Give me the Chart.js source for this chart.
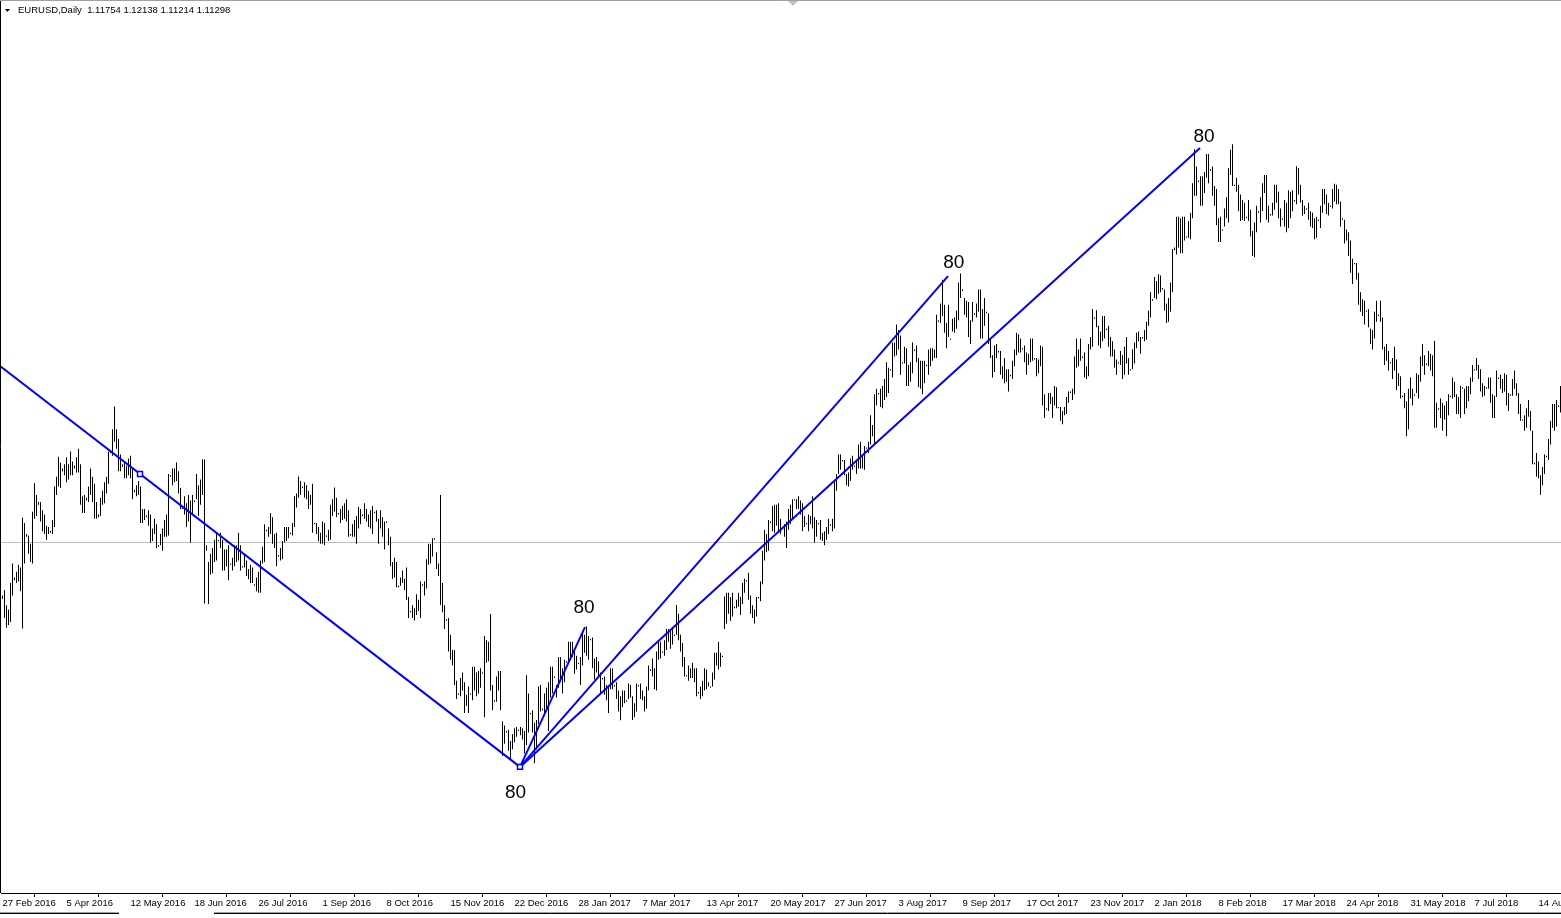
<!DOCTYPE html>
<html><head><meta charset="utf-8">
<script src="https://cdn.jsdelivr.net/npm/chart.js@4.4.1/dist/chart.umd.min.js"></script>
<style>html,body{margin:0;padding:0;background:#fff;overflow:hidden}#wrap{position:relative;width:1561px;height:918px}canvas{display:block}</style>
</head><body><div id="wrap"><canvas id="c" width="1561" height="918"></canvas></div>
<script>
// ---------- DATA ----------
const symbolHeader = "EURUSD,Daily  1.11754 1.12138 1.11214 1.11298";
const bidPrice = 1.11298;

const tickIndex = [0,32,64,96,128,160,192,224,256,288,320,352,384,416,448,480,512,544,576,608,640,672,704,736,768];
const tickLabels = ["27 Feb 2016","5 Apr 2016","12 May 2016","18 Jun 2016","26 Jul 2016","1 Sep 2016","8 Oct 2016","15 Nov 2016","22 Dec 2016","28 Jan 2017","7 Mar 2017","13 Apr 2017","20 May 2017","27 Jun 2017","3 Aug 2017","9 Sep 2017","17 Oct 2017","23 Nov 2017","2 Jan 2018","8 Feb 2018","17 Mar 2018","24 Apr 2018","31 May 2018","7 Jul 2018","14 Aug 2018"];

// daily lows (one row per week, Mon..Sat)
const lows = [1.0928,
1.0860,1.0825,1.0835,1.0845,1.0940,1.0995,
1.0985,1.0990,1.0955,1.0822,1.1055,1.1150,
1.1090,1.1060,1.1055,1.1215,1.1225,1.1265,
1.1205,1.1170,1.1160,1.1140,1.1160,1.1165,
1.1160,1.1185,1.1300,1.1330,1.1325,1.1385,
1.1370,1.1345,1.1355,1.1370,1.1370,1.1395,
1.1380,1.1380,1.1265,1.1235,1.1235,1.1280,
1.1275,1.1300,1.1275,1.1215,1.1215,1.1220,
1.1225,1.1265,1.1270,1.1305,1.1340,1.1450,
1.1440,1.1490,1.1465,1.1385,1.1385,1.1400,
1.1360,1.1360,1.1370,1.1360,1.1285,1.1310,
1.1295,1.1300,1.1200,1.1200,1.1210,1.1220,
1.1190,1.1130,1.1135,1.1160,1.1110,1.1115,
1.1120,1.1100,1.1150,1.1150,1.1155,1.1365,
1.1335,1.1345,1.1350,1.1305,1.1250,1.1250,
1.1230,1.1185,1.1205,1.1130,1.1230,1.1275,
1.1285,1.1225,1.1265,1.1300,1.0912,1.1100,
1.0910,1.1015,1.1020,1.1060,1.1065,1.1135,
1.1110,1.1030,1.1030,1.1045,1.0995,1.1050,
1.1030,1.1045,1.1060,1.1065,1.1030,1.1040,
1.1040,1.1010,1.0998,1.0985,1.0985,1.0975,
1.0955,1.0950,1.0950,1.1055,1.1060,1.1170,
1.1150,1.1160,1.1125,1.1110,1.1045,1.1080,
1.1065,1.1070,1.1130,1.1135,1.1145,1.1160,
1.1155,1.1185,1.1255,1.1290,1.1300,1.1325,
1.1290,1.1285,1.1250,1.1265,1.1165,1.1195,
1.1160,1.1135,1.1125,1.1125,1.1120,1.1150,
1.1135,1.1140,1.1225,1.1240,1.1220,1.1230,
1.1200,1.1210,1.1215,1.1205,1.1150,1.1155,
1.1150,1.1150,1.1125,1.1180,1.1195,1.1225,
1.1215,1.1205,1.1185,1.1180,1.1160,1.1235,
1.1205,1.1125,1.1180,1.1150,1.1105,1.1200,
1.1120,1.1045,1.1000,1.1005,1.0970,1.0970,
1.0975,1.0985,1.0960,1.0925,1.0860,1.0880,
1.0860,1.0851,1.0870,1.0885,1.0860,1.0975,
1.0940,1.0965,1.1050,1.1055,1.1080,1.1140,
1.1035,1.1010,1.0906,1.0880,1.0820,1.0850,
1.0740,1.0710,1.0690,1.0620,1.0570,1.0585,
1.0580,1.0600,1.0520,1.0545,1.0520,1.0585,
1.0565,1.0600,1.0580,1.0590,1.0610,1.0660,
1.0505,1.0700,1.0705,1.0600,1.0530,1.0560,
1.0560,1.0600,1.0530,1.0366,1.0410,1.0450,
1.0385,1.0352,1.0390,1.0415,1.0435,1.0455,
1.0440,1.0425,1.0375,1.0405,1.0450,1.0515,
1.0450,1.0340,1.0390,1.0480,1.0525,1.0530,
1.0520,1.0535,1.0455,1.0575,1.0590,1.0645,
1.0575,1.0610,1.0630,1.0590,1.0630,1.0700,
1.0700,1.0710,1.0720,1.0660,1.0675,1.0695,
1.0620,1.0690,1.0735,1.0725,1.0710,1.0780,
1.0680,1.0640,1.0665,1.0645,1.0590,1.0640,
1.0585,1.0565,1.0520,1.0605,1.0605,1.0615,
1.0570,1.0525,1.0494,1.0540,1.0555,1.0560,
1.0570,1.0575,1.0495,1.0505,1.0525,1.0615,
1.0570,1.0565,1.0525,1.0535,1.0600,1.0670,
1.0650,1.0605,1.0600,1.0710,1.0715,1.0735,
1.0725,1.0745,1.0775,1.0750,1.0765,1.0795,
1.0800,1.0780,1.0740,1.0685,1.0650,1.0650,
1.0635,1.0645,1.0645,1.0630,1.0580,1.0590,
1.0570,1.0580,1.0600,1.0605,1.0615,1.0610,
1.0615,1.0640,1.0690,1.0675,1.0685,1.0720,
1.0820,1.0840,1.0875,1.0850,1.0865,1.0895,
1.0895,1.0900,1.0870,1.0910,1.0950,1.0990,
1.0925,1.0875,1.0860,1.0840,1.0865,1.0930,
1.0920,1.0980,1.1065,1.1095,1.1100,1.1200,
1.1170,1.1165,1.1190,1.1170,1.1160,1.1180,
1.1150,1.1110,1.1175,1.1195,1.1210,1.1280,
1.1250,1.1250,1.1230,1.1170,1.1185,1.1195,
1.1170,1.1195,1.1180,1.1130,1.1150,1.1195,
1.1140,1.1135,1.1120,1.1140,1.1160,1.1190,
1.1170,1.1180,1.1315,1.1375,1.1390,1.1420,
1.1370,1.1335,1.1330,1.1350,1.1390,1.1400,
1.1375,1.1395,1.1395,1.1395,1.1390,1.1465,
1.1450,1.1480,1.1510,1.1480,1.1620,1.1660,
1.1615,1.1610,1.1640,1.1650,1.1665,1.1745,
1.1720,1.1795,1.1800,1.1820,1.1730,1.1770,
1.1770,1.1690,1.1690,1.1705,1.1735,1.1815,
1.1775,1.1685,1.1680,1.1660,1.1700,1.1760,
1.1730,1.1760,1.1780,1.1790,1.1790,1.1920,
1.1915,1.1940,1.1880,1.1825,1.1865,1.1855,
1.1885,1.1880,1.1895,1.1925,1.2005,1.2030,
1.1945,1.1935,1.1865,1.1840,1.1920,1.1945,
1.1935,1.1955,1.1860,1.1860,1.1905,1.1950,
1.1840,1.1790,1.1720,1.1740,1.1790,1.1810,
1.1730,1.1715,1.1700,1.1705,1.1670,1.1725,
1.1715,1.1760,1.1800,1.1810,1.1810,1.1820,
1.1775,1.1730,1.1765,1.1775,1.1780,1.1785,
1.1725,1.1735,1.1760,1.1620,1.1575,1.1605,
1.1600,1.1625,1.1575,1.1620,1.1610,1.1610,
1.1565,1.1553,1.1585,1.1590,1.1630,1.1665,
1.1640,1.1660,1.1755,1.1760,1.1780,1.1790,
1.1720,1.1715,1.1725,1.1820,1.1830,1.1930,
1.1900,1.1835,1.1825,1.1850,1.1860,1.1890,
1.1830,1.1795,1.1795,1.1755,1.1730,1.1770,
1.1765,1.1715,1.1730,1.1770,1.1730,1.1745,
1.1750,1.1770,1.1825,1.1850,1.1805,1.1860,
1.1850,1.1855,1.1905,1.1935,1.1995,
1.2005,1.2000,1.2020,1.2025,1.2035,
1.1960,1.1915,1.1920,1.1955,1.2025,1.2175,
1.2160,1.2185,1.2165,1.2165,1.2210,1.2220,
1.2220,1.2215,1.2290,1.2370,1.2370,1.2420,
1.2335,1.2335,1.2380,1.2435,1.2415,1.2460,
1.2370,1.2335,1.2265,1.2205,1.2205,1.2245,
1.2260,1.2290,1.2275,1.2445,1.2405,1.2405,
1.2385,1.2315,1.2280,1.2285,1.2280,1.2290,
1.2280,1.2225,1.2155,1.2150,1.2240,1.2310,
1.2275,1.2315,1.2380,1.2285,1.2275,1.2300,
1.2300,1.2320,1.2345,1.2290,1.2260,1.2285,
1.2260,1.2240,1.2255,1.2290,1.2315,1.2350,
1.2340,1.2375,1.2345,1.2300,1.2305,1.2320,
1.2285,1.2260,1.2255,1.2215,1.2220,1.2280,
1.2255,1.2310,1.2340,1.2305,1.2300,1.2330,
1.2325,1.2350,1.2340,1.2340,1.2260,1.2285,
1.2200,1.2210,1.2155,1.2095,1.2055,1.2125,
1.2070,1.1980,1.1955,1.1940,1.1910,1.1955,
1.1900,1.1840,1.1820,1.1860,1.1920,1.1940,
1.1920,1.1820,1.1765,1.1780,1.1745,1.1770,
1.1715,1.1745,1.1675,1.1690,1.1645,1.1650,
1.1610,1.1510,1.1535,1.1645,1.1620,1.1655,
1.1665,1.1645,1.1705,1.1760,1.1730,1.1765,
1.1760,1.1745,1.1725,1.1540,1.1540,1.1605,
1.1575,1.1530,1.1570,1.1510,1.1585,1.1650,
1.1645,1.1650,1.1590,1.1590,1.1575,1.1680,
1.1590,1.1610,1.1635,1.1660,1.1705,1.1745,
1.1745,1.1715,1.1670,1.1650,1.1655,1.1680,
1.1680,1.1630,1.1575,1.1575,1.1650,1.1715,
1.1680,1.1665,1.1670,1.1620,1.1600,1.1655,
1.1655,1.1680,1.1655,1.1590,1.1565,1.1565,
1.1530,1.1540,1.1580,1.1530,1.1410,1.1410,
1.1365,1.1360,1.1301,1.1335,1.1375,1.1435,
1.1425,1.1480,1.1540,1.1530,1.1545,1.1615,
1.1595];

// daily highs (same order)
const highs = [1.0940,
1.0960,1.0905,1.0890,1.0985,1.1055,1.1005,
1.1025,1.1050,1.1040,1.1218,1.1200,1.1160,
1.1155,1.1125,1.1240,1.1342,1.1300,1.1275,
1.1275,1.1245,1.1230,1.1190,1.1185,1.1172,
1.1210,1.1330,1.1365,1.1437,1.1415,1.1395,
1.1410,1.1435,1.1410,1.1455,1.1420,1.1405,
1.1435,1.1465,1.1410,1.1295,1.1300,1.1290,
1.1330,1.1395,1.1365,1.1340,1.1275,1.1230,
1.1290,1.1315,1.1345,1.1365,1.1455,1.1458,
1.1535,1.1616,1.1535,1.1500,1.1445,1.1410,
1.1420,1.1405,1.1430,1.1440,1.1395,1.1318,
1.1335,1.1350,1.1330,1.1250,1.1250,1.1226,
1.1245,1.1230,1.1180,1.1215,1.1195,1.1120,
1.1160,1.1180,1.1210,1.1230,1.1375,1.1370,
1.1395,1.1395,1.1416,1.1385,1.1325,1.1256,
1.1295,1.1270,1.1300,1.1280,1.1300,1.1280,
1.1375,1.1335,1.1355,1.1428,1.1427,1.1120,
1.1060,1.1090,1.1110,1.1140,1.1165,1.1140,
1.1165,1.1140,1.1105,1.1105,1.1120,1.1055,
1.1075,1.1120,1.1120,1.1165,1.1120,1.1045,
1.1090,1.1065,1.1035,1.1050,1.1040,1.0980,
1.1005,1.1025,1.1065,1.1115,1.1195,1.1175,
1.1185,1.1235,1.1220,1.1160,1.1165,1.1085,
1.1110,1.1135,1.1185,1.1185,1.1185,1.1165,
1.1200,1.1295,1.1305,1.1366,1.1350,1.1330,
1.1345,1.1335,1.1315,1.1300,1.1340,1.1200,
1.1200,1.1185,1.1165,1.1205,1.1200,1.1155,
1.1175,1.1265,1.1285,1.1327,1.1290,1.1235,
1.1250,1.1260,1.1270,1.1285,1.1245,1.1160,
1.1195,1.1210,1.1225,1.1257,1.1250,1.1230,
1.1270,1.1250,1.1230,1.1245,1.1260,1.1240,
1.1245,1.1215,1.1245,1.1220,1.1205,1.1205,
1.1180,1.1150,1.1060,1.1075,1.1060,1.0975,
1.1005,1.1030,1.1000,1.1040,1.0935,1.0885,
1.0905,1.0895,1.0945,1.0925,1.0990,1.0980,
1.0990,1.1070,1.1125,1.1125,1.1145,1.1145,
1.1095,1.1055,1.1300,1.0985,1.0905,1.0855,
1.0860,1.0800,1.0745,1.0745,1.0635,1.0590,
1.0645,1.0665,1.0630,1.0585,1.0615,1.0590,
1.0685,1.0685,1.0665,1.0670,1.0680,1.0665,
1.0795,1.0780,1.0775,1.0874,1.0620,1.0565,
1.0650,1.0670,1.0670,1.0490,1.0475,1.0455,
1.0460,1.0420,1.0445,1.0465,1.0470,1.0460,
1.0470,1.0465,1.0455,1.0655,1.0590,1.0520,
1.0530,1.0485,1.0495,1.0615,1.0620,1.0535,
1.0590,1.0610,1.0630,1.0685,1.0685,1.0650,
1.0620,1.0720,1.0720,1.0680,1.0710,1.0705,
1.0775,1.0775,1.0775,1.0740,1.0725,1.0700,
1.0720,1.0810,1.0800,1.0829,1.0795,1.0785,
1.0790,1.0715,1.0720,1.0705,1.0665,1.0645,
1.0650,1.0620,1.0615,1.0680,1.0680,1.0620,
1.0630,1.0600,1.0580,1.0600,1.0600,1.0565,
1.0625,1.0620,1.0580,1.0555,1.0625,1.0620,
1.0625,1.0600,1.0580,1.0615,1.0690,1.0675,
1.0715,1.0680,1.0740,1.0780,1.0775,1.0740,
1.0780,1.0820,1.0820,1.0815,1.0820,1.0800,
1.0906,1.0875,1.0800,1.0770,1.0720,1.0655,
1.0690,1.0680,1.0700,1.0680,1.0680,1.0595,
1.0615,1.0635,1.0680,1.0675,1.0630,1.0615,
1.0665,1.0735,1.0735,1.0775,1.0735,1.0725,
1.0937,1.0950,1.0950,1.0935,1.0950,1.0900,
1.0925,1.0950,1.0935,1.0985,1.1000,1.0995,
1.1022,1.0940,1.0905,1.0890,1.0935,1.0935,
1.0990,1.1100,1.1175,1.1160,1.1210,1.1205,
1.1260,1.1265,1.1265,1.1270,1.1215,1.1185,
1.1195,1.1205,1.1250,1.1265,1.1285,1.1285,
1.1285,1.1295,1.1280,1.1270,1.1225,1.1200,
1.1230,1.1225,1.1295,1.1220,1.1210,1.1200,
1.1210,1.1165,1.1170,1.1185,1.1215,1.1195,
1.1215,1.1350,1.1375,1.1445,1.1445,1.1425,
1.1425,1.1375,1.1380,1.1430,1.1440,1.1405,
1.1425,1.1480,1.1490,1.1440,1.1475,1.1470,
1.1490,1.1585,1.1550,1.1660,1.1680,1.1665,
1.1680,1.1690,1.1715,1.1775,1.1755,1.1750,
1.1845,1.1845,1.1910,1.1890,1.1870,1.1775,
1.1830,1.1825,1.1765,1.1775,1.1845,1.1820,
1.1835,1.1790,1.1780,1.1780,1.1780,1.1765,
1.1820,1.1825,1.1825,1.1820,1.1945,1.1925,
1.1985,1.2070,1.1980,1.1915,1.1980,1.1860,
1.1930,1.1935,1.1960,1.2060,1.2092,1.2035,
1.2005,1.1995,1.1990,1.1925,1.1990,1.1950,
1.1985,1.2035,1.2035,1.1965,1.2005,1.1955,
1.1950,1.1855,1.1800,1.1835,1.1840,1.1815,
1.1815,1.1760,1.1790,1.1750,1.1750,1.1730,
1.1780,1.1820,1.1880,1.1875,1.1860,1.1825,
1.1835,1.1810,1.1805,1.1860,1.1860,1.1790,
1.1790,1.1785,1.1835,1.1830,1.1660,1.1610,
1.1665,1.1665,1.1650,1.1690,1.1685,1.1615,
1.1615,1.1600,1.1615,1.1650,1.1670,1.1670,
1.1680,1.1795,1.1860,1.1820,1.1860,1.1795,
1.1810,1.1760,1.1840,1.1865,1.1965,1.1935,
1.1961,1.1905,1.1885,1.1940,1.1940,1.1895,
1.1905,1.1865,1.1850,1.1820,1.1785,1.1775,
1.1815,1.1800,1.1830,1.1865,1.1790,1.1750,
1.1820,1.1845,1.1880,1.1885,1.1865,1.1865,
1.1890,1.1920,1.1960,1.2025,1.2000,
1.2080,1.2065,1.2090,1.2085,1.2040,
1.2035,1.1985,1.2005,1.2060,1.2180,1.2185,
1.2295,1.2295,1.2290,1.2295,1.2295,1.2225,
1.2280,1.2310,1.2415,1.2537,1.2475,1.2425,
1.2440,1.2440,1.2455,1.2520,1.2520,1.2465,
1.2475,1.2405,1.2395,1.2290,1.2295,1.2250,
1.2325,1.2365,1.2470,1.2535,1.2555,1.2410,
1.2435,1.2410,1.2375,1.2355,1.2345,1.2295,
1.2355,1.2320,1.2245,1.2275,1.2335,1.2315,
1.2365,1.2415,1.2445,1.2445,1.2335,1.2305,
1.2345,1.2410,1.2410,1.2385,1.2325,1.2290,
1.2355,1.2345,1.2390,1.2385,1.2390,1.2355,
1.2476,1.2470,1.2410,1.2355,1.2335,1.2325,
1.2345,1.2315,1.2310,1.2290,1.2295,1.2285,
1.2335,1.2395,1.2395,1.2375,1.2345,1.2335,
1.2395,1.2413,1.2410,1.2395,1.2350,1.2290,
1.2285,1.2250,1.2240,1.2210,1.2145,1.2130,
1.2130,1.2095,1.2025,1.2000,1.1995,1.1960,
1.1965,1.1895,1.1890,1.1955,1.1995,1.1945,
1.1995,1.1935,1.1830,1.1840,1.1815,1.1775,
1.1790,1.1830,1.1785,1.1735,1.1725,1.1655,
1.1665,1.1635,1.1680,1.1720,1.1680,1.1660,
1.1735,1.1730,1.1795,1.1840,1.1800,1.1770,
1.1815,1.1805,1.1800,1.1852,1.1630,1.1610,
1.1645,1.1630,1.1620,1.1635,1.1660,1.1655,
1.1720,1.1705,1.1660,1.1650,1.1690,1.1685,
1.1680,1.1690,1.1690,1.1720,1.1765,1.1750,
1.1790,1.1765,1.1750,1.1700,1.1690,1.1685,
1.1720,1.1720,1.1660,1.1655,1.1745,1.1720,
1.1730,1.1715,1.1735,1.1730,1.1665,1.1660,
1.1715,1.1745,1.1700,1.1665,1.1625,1.1570,
1.1585,1.1610,1.1640,1.1600,1.1530,1.1415,
1.1450,1.1420,1.1370,1.1400,1.1445,1.1440,
1.1500,1.1565,1.1625,1.1625,1.1640,1.1620,
1.1690];

// blue trend lines: [startIndex, startPrice, endIndex, endPrice]
const trendStartIdx   = [-1.25, 258.75, 258.75, 258.75];
const trendStartPrice = [1.1761, 1.0327, 1.0327, 1.0327];
const trendEndIdx     = [258.75, 291.25, 472.75, 598.75];
const trendEndPrice   = [1.0327, 1.0827, 1.2083, 1.2541];
// anchor squares
const anchorIdx   = [68.75, 258.75];
const anchorPrice = [1.1375, 1.0327];
// "80" text objects
const noteText  = ["80", "80", "80", "80"];
const noteIdx   = [256.5, 290.75, 475.6, 600.75];
const notePrice = [1.0234, 1.0896, 1.2130, 1.2581];

// ---------- CHART ----------
const bars = highs.map((h, k) => ({x: k, y: [lows[k], h]}));
const blue = '#0000FF';
const trendSets = trendStartIdx.map((s, k) => ({
  type: 'line',
  data: [{x: s, y: trendStartPrice[k]}, {x: trendEndIdx[k], y: trendEndPrice[k]}],
  borderColor: blue, borderWidth: 2, pointRadius: 0, tension: 0, order: 1
}));

const decor = {
  id: 'decor',
  beforeDraw(chart) {
    const c = chart.ctx;
    c.save(); c.fillStyle = '#fff'; c.fillRect(0, 0, chart.width, chart.height); c.restore();
  },
  afterDatasetsDraw(chart) {
    const c = chart.ctx, xs = chart.scales.x, ys = chart.scales.y;
    c.save();
    c.font = '19px "Liberation Sans", Arial, sans-serif';
    c.fillStyle = '#000'; c.textAlign = 'center'; c.textBaseline = 'middle';
    noteText.forEach((t, k) => c.fillText(t, xs.getPixelForValue(noteIdx[k]), ys.getPixelForValue(notePrice[k])));
    c.restore();
  },
  afterDraw(chart) {
    const c = chart.ctx;
    c.save();
    // frame
    c.strokeStyle = '#000'; c.lineWidth = 1;
    c.beginPath(); c.moveTo(0.5, 0); c.lineTo(0.5, 893); c.stroke();
    c.strokeStyle = '#a0a0a0';
    c.beginPath(); c.moveTo(0, 0.5); c.lineTo(1561, 0.5); c.stroke();
    // header
    c.fillStyle = '#000';
    c.beginPath(); c.moveTo(5, 9); c.lineTo(10, 9); c.lineTo(7.5, 12); c.closePath(); c.fill();
    c.font = '9.5px "Liberation Sans", Arial, sans-serif';
    c.textBaseline = 'alphabetic'; c.textAlign = 'left';
    c.fillText(symbolHeader, 18, 13);
    // chart shift marker
    c.fillStyle = '#c0c0c0';
    c.beginPath(); c.moveTo(788, 1); c.lineTo(798, 1); c.lineTo(793, 6); c.closePath(); c.fill();
    // bottom tab strip
    c.strokeStyle = '#a0a0a0';
    c.beginPath(); c.moveTo(0, 912.5); c.lineTo(119, 912.5); c.moveTo(214, 912.5); c.lineTo(1561, 912.5); c.stroke();
    c.strokeStyle = '#000';
    c.beginPath(); c.moveTo(0, 913.5); c.lineTo(119, 913.5); c.moveTo(214, 913.5); c.lineTo(1561, 913.5); c.stroke();
    c.restore();
  }
};

new Chart(document.getElementById('c'), {
  type: 'bar',
  data: {
    datasets: [
      {type: 'line', data: [{x: -0.75, y: bidPrice}, {x: 779.25, y: bidPrice}], borderColor: '#C0C0C0', borderWidth: 1, pointRadius: 0, order: 3},
      {type: 'bar', data: bars, backgroundColor: '#000', borderWidth: 0, barThickness: 1, inflateAmount: 0, order: 2},
      ...trendSets,
      {type: 'line', showLine: false, data: anchorIdx.map((v, k) => ({x: v, y: anchorPrice[k]})),
       pointStyle: 'rect', pointRadius: 3.5, pointBorderColor: blue, pointBackgroundColor: '#fff', pointBorderWidth: 1.5, order: 0}
    ]
  },
  options: {
    responsive: false, animation: false, devicePixelRatio: 1, events: [],
    layout: {autoPadding: false, padding: {left: 1, top: 1, right: 0, bottom: 0}},
    plugins: {legend: {display: false}, tooltip: {enabled: false}, title: {display: false}},
    scales: {
      x: {
        type: 'linear', min: -0.75, max: 779.25, position: 'bottom', offset: false,
        afterBuildTicks: s => { s.ticks = tickIndex.map(v => ({value: v})); },
        afterFit: s => { s.paddingLeft = 0; s.paddingRight = 0; s.height = 25; },
        ticks: {
          autoSkip: false, maxRotation: 0, minRotation: 0, align: 'start', padding: 1,
          color: '#000', font: {family: '"Liberation Sans", Arial, sans-serif', size: 9.5},
          callback: (v, i) => tickLabels[i]
        },
        grid: {display: true, drawOnChartArea: false, drawTicks: true, tickLength: 4, color: '#000', lineWidth: 1},
        border: {display: true, color: '#000', width: 1}
      },
      y: {type: 'linear', display: false, min: 0.98758, max: 1.30672}
    }
  },
  plugins: [decor]
});
</script>
</body></html>
